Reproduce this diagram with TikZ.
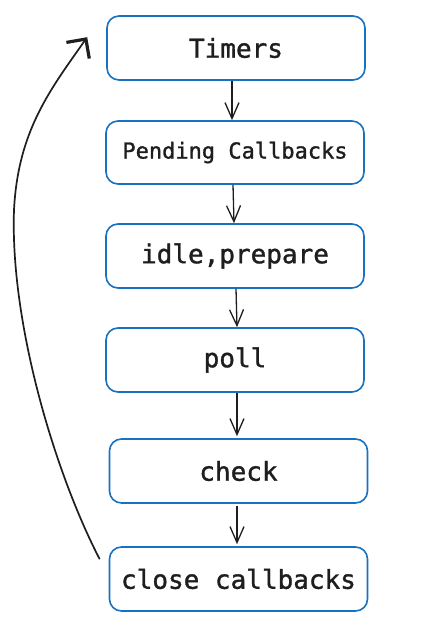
\documentclass[tikz,border=0pt]{standalone}
\usepackage{fontspec}
\newfontfamily\boxfont[FakeBold=1.2]{DejaVu Sans Mono}
\usetikzlibrary{arrows.meta}
\definecolor{boxblue}{HTML}{1971C2}
\definecolor{ink}{HTML}{1E1E1E}
\tikzset{
  phase/.style={draw=boxblue, line width=1.6pt, rounded corners=12pt, fill=white,
    minimum width=258pt, minimum height=64pt, inner sep=0pt, text=ink,
    font=\boxfont\fontsize{26}{30}\selectfont},
  smalltext/.style={font=\boxfont\fontsize{22}{26}\selectfont},
  flow/.style={draw=ink, line width=1.3pt, -{Straight Barb[length=16pt,width=14pt,line width=1.3pt]}},
  loop/.style={draw=ink, line width=1.7pt, -{Straight Barb[length=14pt,width=28pt,line width=3.2pt]}}
}
\begin{document}
\begin{tikzpicture}[x=1pt,y=1pt]
\useasboundingbox (0,0) rectangle (437,623);
\node[phase] (timers) at (236,575) {Timers};
\node[phase, smalltext, minimum height=63pt] (pend) at (235,470.5) {Pending Callbacks};
\node[phase] (idle) at (235,367) {idle,prepare};
\node[phase] (poll) at (235,263) {poll};
\node[phase] (check) at (238.5,152) {check};
\node[phase] (close) at (238.5,44) {close callbacks};

\draw[flow] ([xshift=-4pt]timers.south) -- ([xshift=-3pt]pend.north);
\draw[flow] ([xshift=-2pt]pend.south) -- ([xshift=-1pt]idle.north);
\draw[flow] ([xshift=1pt]idle.south) -- ([xshift=2pt]poll.north);
\draw[flow] ([xshift=2pt]poll.south) -- ([xshift=-1.5pt,yshift=2pt]check.north);
\draw[flow] ([xshift=-1.5pt,yshift=-2pt]check.south) -- ([xshift=-1.5pt,yshift=2pt]close.north);

\coordinate (ls) at ([xshift=-9pt,yshift=-13pt]close.north west);
\coordinate (lm) at (14,413);
\coordinate (le) at ([xshift=-19pt,yshift=-22pt]timers.north west);
\draw[loop] (ls) .. controls (55,150) and (10,300) .. (lm)
  .. controls (18,492) and (50,533) .. (le);
\end{tikzpicture}
\end{document}
